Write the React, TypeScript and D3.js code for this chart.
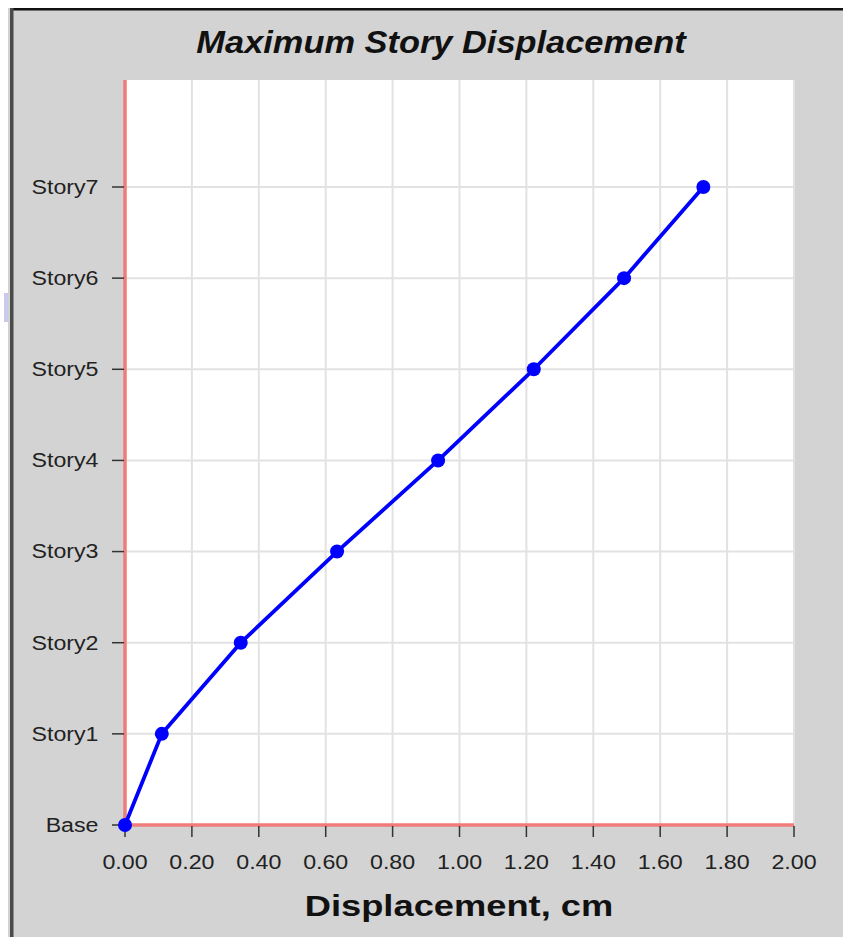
import React from "react";
import * as d3 from "d3";

const stories = ["Base", "Story1", "Story2", "Story3", "Story4", "Story5", "Story6", "Story7"];
const displacement = [0, 0.11, 0.346, 0.634, 0.936, 1.222, 1.492, 1.729];
const xTicks = [0, 0.2, 0.4, 0.6, 0.8, 1.0, 1.2, 1.4, 1.6, 1.8, 2.0];
const title = "Maximum Story Displacement";
const xTitle = "Displacement, cm";

const W = 843;
const H = 937;
const plot = { left: 125, right: 794, top: 80, bottom: 825 };
const FONT = "'Liberation Sans', Arial, Helvetica, sans-serif";

export default function App() {
  const x = d3.scaleLinear().domain([0, 2]).range([plot.left, plot.right]);
  const y = d3
    .scaleLinear()
    .domain([0, 8.174])
    .range([plot.bottom, plot.top]);

  const pts = displacement.map((d, i) => [x(d), y(i)] as [number, number]);
  const line = d3.line()(pts) || "";

  return (
    <svg
      width={W}
      height={H}
      style={{ position: "absolute", left: 0, top: 0, display: "block" }}
    >
      <rect x={0} y={0} width={W} height={H} fill="#ffffff" />
      <rect x={8} y={8} width={W - 8} height={H - 8} fill="#d3d3d3" />
      {/* frame */}
      <rect x={10} y={8} width={W - 10} height={2.5} fill="#111" />
      <rect x={10} y={8} width={3.5} height={H - 8} fill="#4a4a4a" />
      <rect x={4} y={293} width={4} height={29} fill="#c9c9ee" />

      {/* plot background */}
      <rect
        x={plot.left}
        y={plot.top}
        width={plot.right - plot.left}
        height={plot.bottom - plot.top}
        fill="#ffffff"
      />
      {/* grid */}
      {xTicks.slice(1).map((t) => (
        <line
          key={"gx" + t}
          x1={x(t)}
          x2={x(t)}
          y1={plot.top}
          y2={plot.bottom}
          stroke="#e2e2e2"
          strokeWidth={2}
        />
      ))}
      {stories.slice(1).map((s, i) => (
        <line
          key={"gy" + s}
          x1={plot.left}
          x2={plot.right}
          y1={y(i + 1)}
          y2={y(i + 1)}
          stroke="#e2e2e2"
          strokeWidth={2}
        />
      ))}

      {/* axes */}
      <line
        x1={plot.left}
        x2={plot.left}
        y1={plot.top}
        y2={plot.bottom + 1}
        stroke="#f07b7b"
        strokeWidth={3.5}
      />
      <line
        x1={plot.left}
        x2={plot.right}
        y1={plot.bottom}
        y2={plot.bottom}
        stroke="#f07b7b"
        strokeWidth={3.5}
      />

      {/* y ticks and labels */}
      {stories.map((s, i) => (
        <g key={"yt" + s}>
          <line
            x1={112}
            x2={plot.left - 1}
            y1={y(i)}
            y2={y(i)}
            stroke="#333"
            strokeWidth={1.5}
          />
          <text
            transform={`translate(98.5,${y(i)}) scale(1.16,1)`}
            textAnchor="end"
            dominantBaseline="central"
            fontFamily={FONT}
            fontSize={20}
            fill="#222"
          >
            {s}
          </text>
        </g>
      ))}

      {/* x ticks and labels */}
      {xTicks.map((t) => (
        <g key={"xt" + t}>
          <line
            x1={x(t)}
            x2={x(t)}
            y1={plot.bottom + 1}
            y2={plot.bottom + 12}
            stroke="#333"
            strokeWidth={1.5}
          />
          <text
            transform={`translate(${x(t)},868.5) scale(1.16,1)`}
            textAnchor="middle"
            fontFamily={FONT}
            fontSize={20}
            fill="#222"
          >
            {d3.format(".2f")(t)}
          </text>
        </g>
      ))}

      {/* series */}
      <path d={line} fill="none" stroke="#0000ff" strokeWidth={3.8} strokeLinejoin="round" />
      {pts.map((p, i) => (
        <circle key={"pt" + i} cx={p[0]} cy={p[1]} r={7} fill="#0000ff" />
      ))}

      {/* titles */}
      <text
        transform={`translate(441,53) scale(1.11,1)`}
        textAnchor="middle"
        fontFamily={FONT}
        fontSize={31}
        fontWeight="bold"
        fontStyle="italic"
        fill="#111"
      >
        {title}
      </text>
      <text
        transform={`translate(459,916) scale(1.21,1)`}
        textAnchor="middle"
        fontFamily={FONT}
        fontSize={30}
        fontWeight="bold"
        fill="#111"
      >
        {xTitle}
      </text>
    </svg>
  );
}
